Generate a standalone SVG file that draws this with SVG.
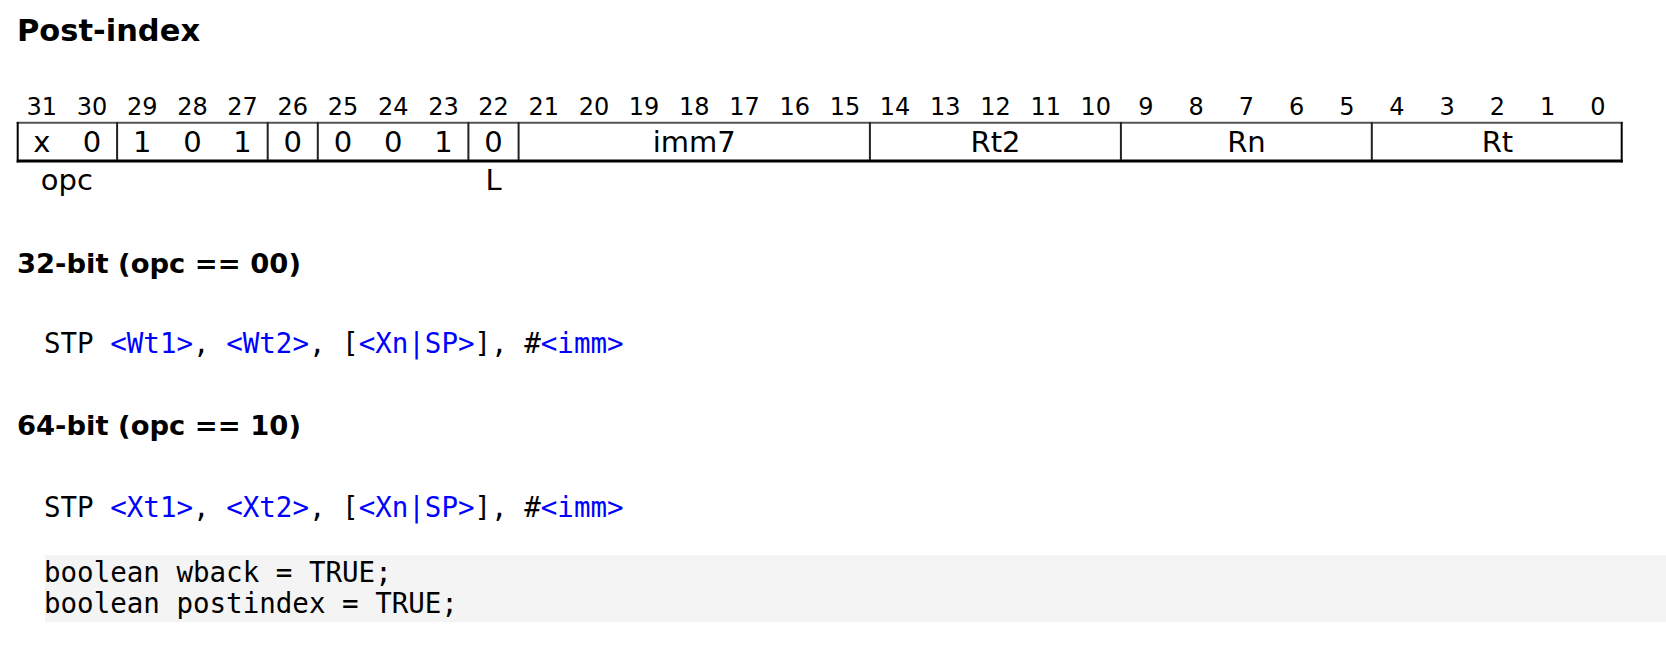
<svg xmlns="http://www.w3.org/2000/svg" width="1666" height="645" viewBox="0 0 1666 645">
<style>
.h1{font-family:"DejaVu Sans",sans-serif;font-weight:bold;font-size:30.5px;fill:#000}
.h2{font-family:"DejaVu Sans",sans-serif;font-weight:bold;font-size:27.4px;fill:#000}
.bn{font-family:"DejaVu Sans",sans-serif;font-size:24px;fill:#000;text-anchor:middle}
.cv{font-family:"DejaVu Sans",sans-serif;font-size:29px;fill:#000;text-anchor:middle}
.code{font-family:"DejaVu Sans Mono",monospace;font-size:27.5px;fill:#000;white-space:pre}
.var{fill:#0000ff}
.div{stroke:#222;stroke-width:2}
</style>
<rect width="1666" height="645" fill="#fff"/>
<text class="h1" x="17" y="41">Post-index</text>

<g id="bitnumbers">
<text class="bn" x="41.8" y="115">31</text>
<text class="bn" x="92.0" y="115">30</text>
<text class="bn" x="142.2" y="115">29</text>
<text class="bn" x="192.4" y="115">28</text>
<text class="bn" x="242.6" y="115">27</text>
<text class="bn" x="292.8" y="115">26</text>
<text class="bn" x="343.0" y="115">25</text>
<text class="bn" x="393.2" y="115">24</text>
<text class="bn" x="443.4" y="115">23</text>
<text class="bn" x="493.6" y="115">22</text>
<text class="bn" x="543.7" y="115">21</text>
<text class="bn" x="593.9" y="115">20</text>
<text class="bn" x="644.1" y="115">19</text>
<text class="bn" x="694.3" y="115">18</text>
<text class="bn" x="744.5" y="115">17</text>
<text class="bn" x="794.7" y="115">16</text>
<text class="bn" x="844.9" y="115">15</text>
<text class="bn" x="895.1" y="115">14</text>
<text class="bn" x="945.3" y="115">13</text>
<text class="bn" x="995.5" y="115">12</text>
<text class="bn" x="1045.7" y="115">11</text>
<text class="bn" x="1095.8" y="115">10</text>
<text class="bn" x="1146.0" y="115">9</text>
<text class="bn" x="1196.2" y="115">8</text>
<text class="bn" x="1246.4" y="115">7</text>
<text class="bn" x="1296.6" y="115">6</text>
<text class="bn" x="1346.8" y="115">5</text>
<text class="bn" x="1397.0" y="115">4</text>
<text class="bn" x="1447.2" y="115">3</text>
<text class="bn" x="1497.4" y="115">2</text>
<text class="bn" x="1547.6" y="115">1</text>
<text class="bn" x="1597.8" y="115">0</text>
</g>

<g id="encoding">
<line x1="16.7" y1="122.7" x2="1622.7" y2="122.7" stroke="#555" stroke-width="2"/>
<line x1="16.7" y1="161" x2="1622.7" y2="161" stroke="#000" stroke-width="3"/>
<line x1="17.7" y1="122" x2="17.7" y2="162.5" stroke="#000" stroke-width="2"/>
<line x1="1621.7" y1="122" x2="1621.7" y2="162.5" stroke="#000" stroke-width="2"/>
<g id="f-opc"><text class="cv" x="41.8" y="152">x</text><text class="cv" x="92.0" y="152">0</text></g>
<line class="div" x1="117.1" y1="122" x2="117.1" y2="160"/>
<g id="f-101"><text class="cv" x="142.2" y="152">1</text><text class="cv" x="192.4" y="152">0</text><text class="cv" x="242.6" y="152">1</text></g>
<line class="div" x1="267.7" y1="122" x2="267.7" y2="160"/>
<g id="f-26"><text class="cv" x="292.8" y="152">0</text></g>
<line class="div" x1="317.8" y1="122" x2="317.8" y2="160"/>
<g id="f-001"><text class="cv" x="343.0" y="152">0</text><text class="cv" x="393.2" y="152">0</text><text class="cv" x="443.4" y="152">1</text></g>
<line class="div" x1="468.4" y1="122" x2="468.4" y2="160"/>
<g id="f-L"><text class="cv" x="493.6" y="152">0</text></g>
<line class="div" x1="518.6" y1="122" x2="518.6" y2="160"/>
<g id="f-imm7"><text class="cv" x="694.3" y="152">imm7</text></g>
<line class="div" x1="869.9" y1="122" x2="869.9" y2="160"/>
<g id="f-Rt2"><text class="cv" x="995.5" y="152">Rt2</text></g>
<line class="div" x1="1120.9" y1="122" x2="1120.9" y2="160"/>
<g id="f-Rn"><text class="cv" x="1246.4" y="152">Rn</text></g>
<line class="div" x1="1371.8" y1="122" x2="1371.8" y2="160"/>
<g id="f-Rt"><text class="cv" x="1497.4" y="152">Rt</text></g>
</g>

<g id="fieldnames">
<text class="cv" x="66.9" y="190">opc</text>
<text class="cv" x="493.6" y="190">L</text>
</g>

<g id="connectors"></g>

<text class="h2" x="17" y="273">32-bit (opc == 00)</text>
<text class="code" x="44" y="353">STP <tspan class="var">&lt;Wt1&gt;</tspan>, <tspan class="var">&lt;Wt2&gt;</tspan>, [<tspan class="var">&lt;Xn|SP&gt;</tspan>], #<tspan class="var">&lt;imm&gt;</tspan></text>

<text class="h2" x="17" y="435">64-bit (opc == 10)</text>
<text class="code" x="44" y="517">STP <tspan class="var">&lt;Xt1&gt;</tspan>, <tspan class="var">&lt;Xt2&gt;</tspan>, [<tspan class="var">&lt;Xn|SP&gt;</tspan>], #<tspan class="var">&lt;imm&gt;</tspan></text>

<rect x="45" y="555" width="1621" height="67" fill="#f4f4f4"/>
<text class="code" x="44" y="582">boolean wback = TRUE;</text>
<text class="code" x="44" y="613">boolean postindex = TRUE;</text>
</svg>
